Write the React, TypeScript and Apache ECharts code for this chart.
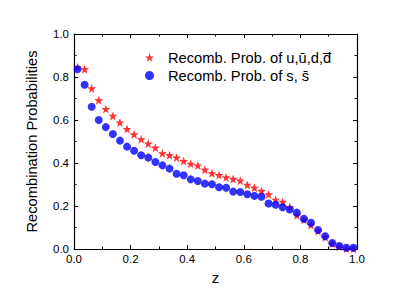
import React, { useEffect, useRef } from "react";
import * as echarts from "echarts";

const zValues = [
  0.0125, 0.0375, 0.0625, 0.0875, 0.1125, 0.1375, 0.1625, 0.1875, 0.2125, 0.2375,
  0.2625, 0.2875, 0.3125, 0.3375, 0.3625, 0.3875, 0.4125, 0.4375, 0.4625, 0.4875,
  0.5125, 0.5375, 0.5625, 0.5875, 0.6125, 0.6375, 0.6625, 0.6875, 0.7125, 0.7375,
  0.7625, 0.7875, 0.8125, 0.8375, 0.8625, 0.8875, 0.9125, 0.9375, 0.9625, 0.9875,
];

const udProb = [
  0.845, 0.836, 0.747, 0.692, 0.651, 0.619, 0.588, 0.558, 0.533, 0.51,
  0.49, 0.471, 0.445, 0.436, 0.425, 0.409, 0.396, 0.388, 0.369, 0.352,
  0.344, 0.333, 0.326, 0.318, 0.298, 0.285, 0.27, 0.254, 0.229, 0.219,
  0.195, 0.157, 0.136, 0.112, 0.083, 0.055, 0.025, 0.01, 0.002, 0.001,
];

const sProb = [
  0.836, 0.764, 0.662, 0.6, 0.567, 0.535, 0.504, 0.476, 0.457, 0.436,
  0.425, 0.405, 0.389, 0.374, 0.35, 0.343, 0.324, 0.316, 0.304, 0.301,
  0.287, 0.285, 0.267, 0.265, 0.255, 0.247, 0.243, 0.212, 0.206, 0.194,
  0.184, 0.169, 0.141, 0.122, 0.088, 0.059, 0.028, 0.014, 0.006, 0.006,
];

const seriesNames = [
  "Recomb. Prob. of u,u\u0304,d,d\u0305",
  "Recomb. Prob. of s, s\u0304",
];

const STAR =
  "path://M0,-10L2.35,-3.24L9.51,-3.09L3.8,1.24L5.88,8.09L0,4L-5.88,8.09L-3.8,1.24L-9.51,-3.09L-2.35,-3.24Z";

const FONT = "Liberation Sans, Arial, sans-serif";

export default function App() {
  const ref = useRef<HTMLDivElement>(null);
  useEffect(() => {
    if (!ref.current) return;
    const chart = echarts.init(ref.current, null, { renderer: "svg" });
    const axisCommon = {
      type: "value" as const,
      min: 0,
      max: 1,
      interval: 0.2,
      axisLine: { show: true, onZero: false, lineStyle: { color: "#000", width: 1.2 } },
      axisTick: { show: true, inside: true, length: 4, lineStyle: { color: "#000" } },
      minorTick: { show: true, splitNumber: 2, length: 2.5, lineStyle: { color: "#000" } },
      splitLine: { show: false },
    };
    chart.setOption({
      animation: false,
      backgroundColor: "#fff",
      textStyle: { fontFamily: FONT },
      grid: { left: 74, right: 58, top: 34, bottom: 50 },
      legend: {
        orient: "vertical",
        left: 140,
        top: 45,
        itemWidth: 9,
        itemHeight: 9,
        itemGap: 3,
        data: seriesNames,
        textStyle: {
          fontFamily: FONT,
          fontSize: 14.7,
          color: "#000",
          padding: [0, 0, 0, 9],
          lineHeight: 15,
        },
      },
      xAxis: [
        {
          ...axisCommon,
          position: "bottom",
          name: "z",
          nameLocation: "middle",
          nameGap: 21,
          nameTextStyle: { fontFamily: FONT, fontSize: 15, color: "#000" },
          axisLabel: {
            fontFamily: FONT,
            fontSize: 11.5,
            color: "#000",
            margin: 4,
            formatter: (v: number) => v.toFixed(1),
          },
        },
        { ...axisCommon, position: "top", axisLabel: { show: false } },
      ],
      yAxis: [
        {
          ...axisCommon,
          position: "left",
          name: "Recombination Probabilities",
          nameLocation: "middle",
          nameGap: 35,
          nameTextStyle: { fontFamily: FONT, fontSize: 14.7, color: "#000" },
          axisLabel: {
            fontFamily: FONT,
            fontSize: 11.5,
            color: "#000",
            margin: 5,
            formatter: (v: number) => v.toFixed(1),
          },
        },
        { ...axisCommon, position: "right", axisLabel: { show: false } },
      ],
      series: [
        {
          name: seriesNames[0],
          type: "scatter",
          symbol: STAR,
          symbolSize: 9,
          itemStyle: { color: "#ff0000" },
          data: zValues.map((z, i) => [z, udProb[i]]),
        },
        {
          name: seriesNames[1],
          type: "scatter",
          symbol: "circle",
          symbolSize: 8,
          itemStyle: { color: "#0000ff" },
          data: zValues.map((z, i) => [z, sProb[i]]),
        },
      ],
    });
    return () => chart.dispose();
  }, []);
  return <div ref={ref} style={{ width: 415, height: 299, position: "absolute", left: 0, top: 0 }} />;
}
